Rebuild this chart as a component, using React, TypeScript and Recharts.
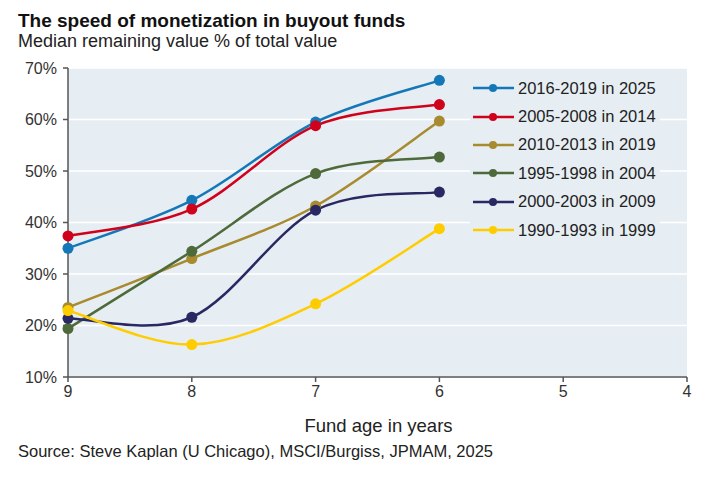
import React from 'react';
import { LineChart, Line, XAxis, YAxis, CartesianGrid } from 'recharts';

// fund age in years (x axis runs 9 -> 4)
const ages = [9, 8, 7, 6];
const xTicks = [9, 8, 7, 6, 5, 4];
const yTicks = [10, 20, 30, 40, 50, 60, 70];

// median remaining value % of total value, per vintage group
const v2016 = [35.0, 44.3, 59.5, 67.6];
const v2005 = [37.4, 42.6, 58.8, 62.9];
const v2010 = [23.5, 33.0, 43.2, 59.7];
const v1995 = [19.4, 34.4, 49.5, 52.7];
const v2000 = [21.4, 21.6, 42.4, 45.9];
const v1990 = [22.9, 16.3, 24.2, 38.8];

const series = [
    { key: 's2016', name: '2016-2019 in 2025', values: v2016, color: '#1478b8' },
    { key: 's2005', name: '2005-2008 in 2014', values: v2005, color: '#d0021b' },
    { key: 's2010', name: '2010-2013 in 2019', values: v2010, color: '#a88a2f' },
    { key: 's1995', name: '1995-1998 in 2004', values: v1995, color: '#4e6a3a' },
    { key: 's2000', name: '2000-2003 in 2009', values: v2000, color: '#2a2862' },
    { key: 's1990', name: '1990-1993 in 1999', values: v1990, color: '#ffcc00' },
];

const chartData = ages.map((age, i) => {
    const row: any = { age };
    series.forEach((s) => { row[s.key] = s.values[i]; });
    return row;
});

const FONT = '"Liberation Sans", Arial, sans-serif';
const PLOT_BG = '#e6eef3';

// Excel-like smoothed line: cubic bezier through every point
const smoothCurve = (context: any) => {
    let pts: number[][] = [];
    return {
        areaStart() {},
        areaEnd() {},
        lineStart() { pts = []; },
        point(x: number, y: number) { pts.push([+x, +y]); },
        lineEnd() {
            if (!pts.length) return;
            context.moveTo(pts[0][0], pts[0][1]);
            for (let i = 0; i < pts.length - 1; i++) {
                const p0 = pts[i - 1] || pts[i];
                const p1 = pts[i];
                const p2 = pts[i + 1];
                const p3 = pts[i + 2] || p2;
                context.bezierCurveTo(
                    p1[0] + (p2[0] - p0[0]) / 6, p1[1] + (p2[1] - p0[1]) / 6,
                    p2[0] - (p3[0] - p1[0]) / 6, p2[1] - (p3[1] - p1[1]) / 6,
                    p2[0], p2[1]
                );
            }
        },
    };
};

const LegendBox = () => (
    <div style={{ position: 'absolute', left: 470, top: 74, width: 190, background: PLOT_BG }}>
        {series.map((s) => (
            <div key={s.key} style={{ display: 'flex', alignItems: 'center', height: 28.4 }}>
                <svg width={48} height={12} style={{ flex: 'none' }}>
                    <line x1={3} y1={6} x2={44} y2={6} stroke={s.color} strokeWidth={2.5} />
                    <circle cx={23} cy={6} r={4} fill={s.color} />
                </svg>
                <span style={{ fontSize: 16.5, color: '#222', whiteSpace: 'nowrap' }}>{s.name}</span>
            </div>
        ))}
    </div>
);

export default function App() {
    return (
        <div style={{ position: 'absolute', left: 0, top: 0, width: 709, height: 481, background: '#fff', fontFamily: FONT }}>
            <div style={{ position: 'absolute', left: 18, top: 10, fontSize: 19, fontWeight: 'bold', color: '#111', whiteSpace: 'nowrap' }}>
                The speed of monetization in buyout funds
            </div>
            <div style={{ position: 'absolute', left: 18, top: 31, fontSize: 18, color: '#222', whiteSpace: 'nowrap' }}>
                Median remaining value % of total value
            </div>

            <div style={{ position: 'absolute', left: 0, top: 0 }}>
                <LineChart width={709} height={481} data={chartData} margin={{ top: 68, right: 22, bottom: 74, left: 0 }}>
                    <CartesianGrid vertical={false} stroke="#ffffff" strokeWidth={1.5} fill={PLOT_BG} />
                    <XAxis
                        dataKey="age"
                        type="number"
                        domain={[4, 9]}
                        ticks={xTicks}
                        reversed
                        height={30}
                        tickSize={5}
                        tickMargin={4}
                        stroke="#555"
                        strokeWidth={1.5}
                        tick={{ fill: '#333', fontSize: 16 }}
                    />
                    <YAxis
                        type="number"
                        domain={[10, 70]}
                        ticks={yTicks}
                        width={68}
                        tickSize={5}
                        tickMargin={6}
                        stroke="#555"
                        strokeWidth={1.5}
                        tickFormatter={(v: number) => `${v}%`}
                        tick={{ fill: '#333', fontSize: 16 }}
                    />
                    {series.map((s) => (
                        <Line
                            key={s.key}
                            dataKey={s.key}
                            name={s.name}
                            type={smoothCurve as any}
                            stroke={s.color}
                            strokeWidth={2.5}
                            dot={{ r: 5.5, fill: s.color, stroke: s.color, strokeWidth: 0 }}
                            activeDot={false}
                            isAnimationActive={false}
                        />
                    ))}
                </LineChart>
            </div>

            <LegendBox />

            <div style={{ position: 'absolute', left: 0, width: 757, top: 415, textAlign: 'center', fontSize: 18.5, color: '#222' }}>
                Fund age in years
            </div>
            <div style={{ position: 'absolute', left: 18, top: 442, fontSize: 16.5, color: '#222', whiteSpace: 'nowrap' }}>
                Source: Steve Kaplan (U Chicago), MSCI/Burgiss, JPMAM, 2025
            </div>
        </div>
    );
}
